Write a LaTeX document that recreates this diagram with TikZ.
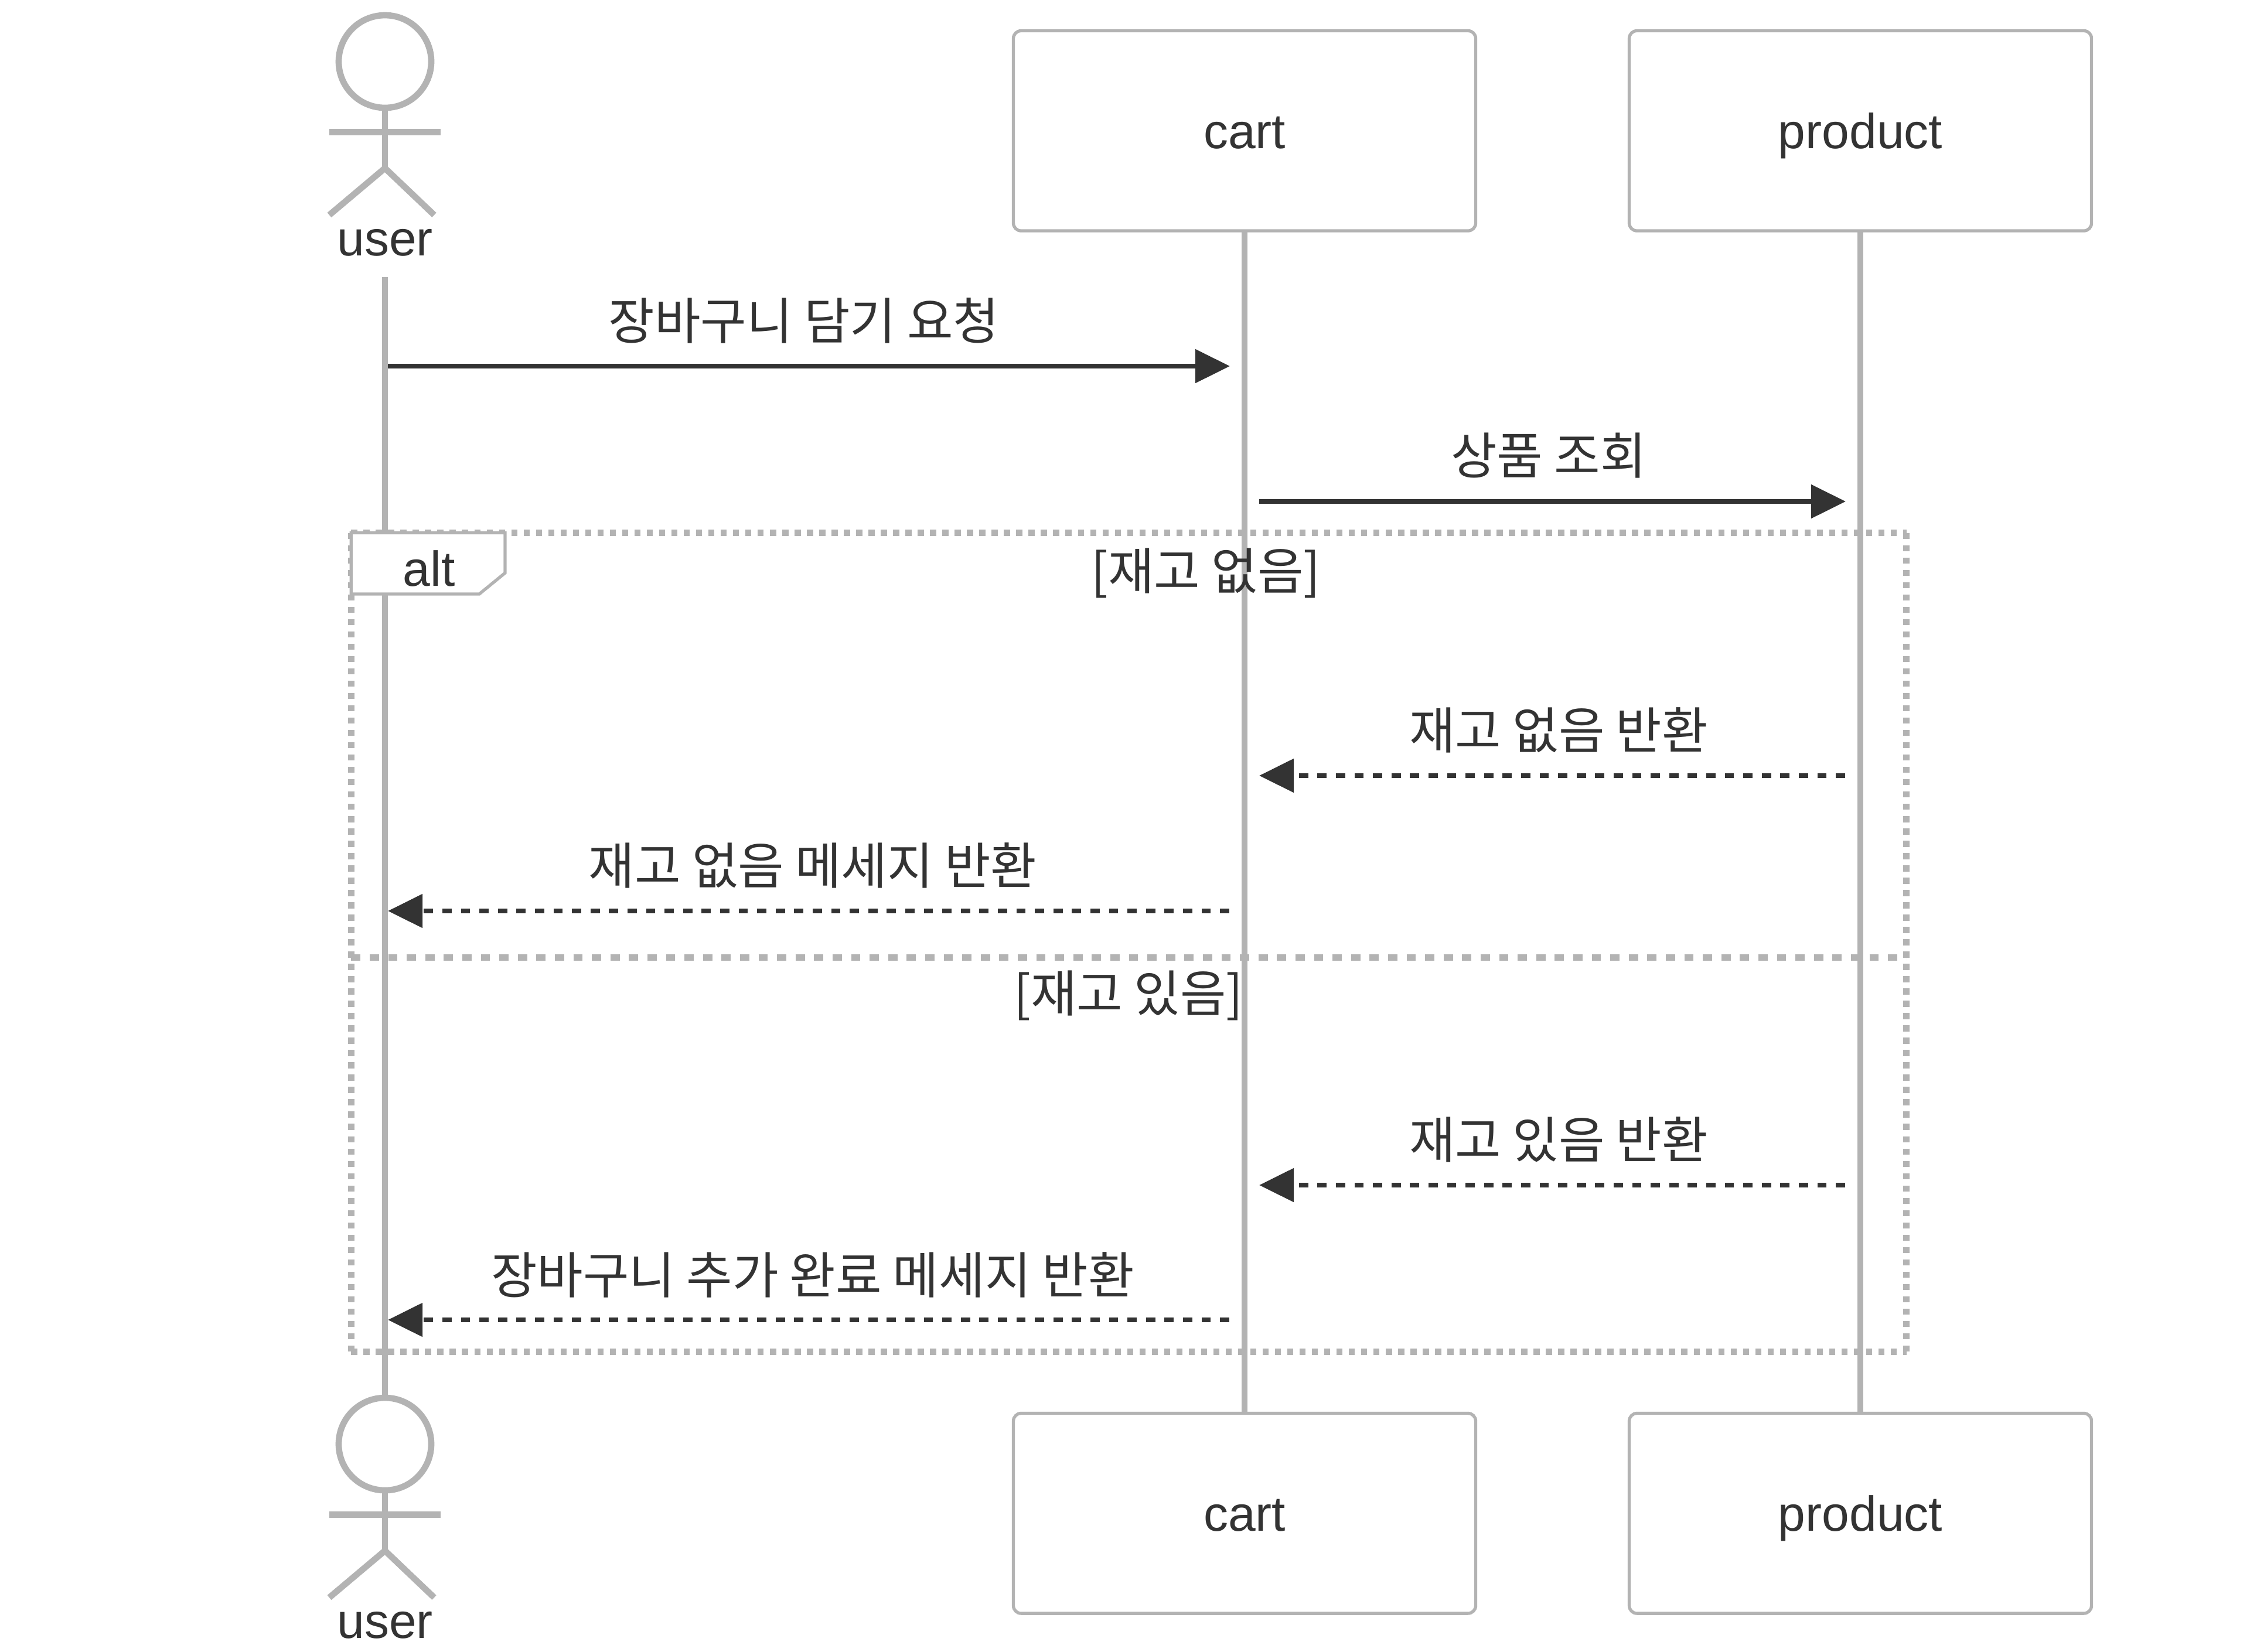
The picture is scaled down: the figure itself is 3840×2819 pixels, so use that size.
\documentclass[tikz,border=0pt]{standalone}
\usepackage{fontspec}
\setmainfont{Liberation Sans}
\newfontfamily\krfont{Noto Sans CJK KR}
\usetikzlibrary{arrows.meta}
\definecolor{linegray}{HTML}{B3B3B3}
\definecolor{inkdark}{HTML}{333333}
\tikzset{
  x=0.25pt,y=-0.25pt,
  txt/.style={text=inkdark,font=\fontsize{21pt}{24pt}\selectfont,inner sep=0pt,outer sep=0pt,anchor=base},
  krtxt/.style={txt,font=\fontsize{21.35pt}{24pt}\selectfont\krfont},
  lifeline/.style={draw=linegray,line width=2.67pt},
  actorline/.style={draw=linegray,line width=2.67pt},
  actorhead/.style={circle,draw=linegray,line width=2.67pt,minimum size=39.5pt,inner sep=0pt,outer sep=0pt,fill=white},
  partbox/.style={draw=linegray,line width=1.33pt,rounded corners=3.3pt,fill=white,minimum width=197.25pt,minimum height=85.4pt,inner sep=0pt,outer sep=0pt,text=inkdark,font=\fontsize{21pt}{24pt}\selectfont,text height=15.2pt,text depth=0pt},
  framedot/.style={draw=linegray,line width=2.63pt,dash pattern=on 2.6275pt off 2.6275pt},
  framediv/.style={draw=linegray,line width=2.63pt,dash pattern=on 3.95pt off 3.95pt},
  labelbox/.style={draw=linegray,line width=1.33pt,fill=white},
  msg/.style={draw=inkdark,line width=2.1pt,-{Triangle[length=14.75pt,width=14pt,fill=inkdark]}},
  msgdash/.style={msg,dash pattern=on 3.95pt off 3.95pt},
}
\begin{document}
\begin{tikzpicture}
\useasboundingbox (0,0) rectangle (3840,2819);
% participants
\node[partbox] (cartT) at (2124,223.25) {cart};
\node[partbox] (prodT) at (3175,223.25) {product};
\node[partbox] (cartB) at (2124,2583.25) {cart};
\node[partbox] (prodB) at (3175,2583.25) {product};
% actors
\node[actorhead] (headT) at (657,105) {};
\node[actorhead] (headB) at (657,2465) {};
\coordinate (hipT) at (657,287);
\coordinate (armLT) at (562,225.5); \coordinate (armRT) at (752,225.5);
\coordinate (legLT) at (562,367); \coordinate (legRT) at (741,367);
\coordinate (hipB) at (657,2647);
\coordinate (armLB) at (562,2585.5); \coordinate (armRB) at (752,2585.5);
\coordinate (legLB) at (562,2727); \coordinate (legRB) at (741,2727);
\draw[actorline] (headT.south) -- (hipT);
\draw[actorline] (armLT) -- (armRT);
\draw[actorline] (legLT) -- (hipT) -- (legRT);
\draw[actorline] (headB.south) -- (hipB);
\draw[actorline] (armLB) -- (armRB);
\draw[actorline] (legLB) -- (hipB) -- (legRB);
\node[txt] (userT) at (657,436) {user};
\node[txt] (userB) at (657,2796) {user};
% lifelines
\coordinate (lifeU) at (657,473);
\draw[lifeline] (lifeU) -- (headB.north);
\draw[lifeline] (cartT.south) -- (cartB.north);
\draw[lifeline] (prodT.south) -- (prodB.north);
% alt frame
\coordinate (fTL) at (599.3,909.5); \coordinate (fTR) at (3253.7,909.5);
\coordinate (fBL) at (599.3,2307.5); \coordinate (fBR) at (3253.7,2307.5);
\coordinate (dL) at (599.3,1634.5); \coordinate (dR) at (3253.7,1634.5);
\draw[framedot] (fTL) -- (fTR);
\draw[framedot] (fTR) -- (fBR);
\draw[framedot] (fBL) -- (fBR);
\draw[framedot] (fTL) -- (fBL);
\draw[framediv] (dL) -- (dR);
\draw[labelbox] (599.3,909.5) -- (862,909.5) -- (862,978) -- (818,1014) -- (599.3,1014) -- cycle;
\node[txt] (alt) at (732,1000) {alt};
\node[krtxt] (g1) at (2058,1006) {[재고 없음]};
\node[krtxt] (g2) at (1926,1727) {[재고 있음]};
% messages
\coordinate (m1a) at (662,625); \coordinate (m1b) at (2099,625);
\coordinate (m2a) at (2149,856); \coordinate (m2b) at (3150,856);
\coordinate (m3a) at (3149,1324); \coordinate (m3b) at (2149,1324);
\coordinate (m4a) at (2098,1555); \coordinate (m4b) at (662,1555);
\coordinate (m5a) at (3149,2023); \coordinate (m5b) at (2149,2023);
\coordinate (m6a) at (2098,2253); \coordinate (m6b) at (662,2253);
\draw[msg] (m1a) -- (m1b);
\draw[msg] (m2a) -- (m2b);
\draw[msgdash] (m3a) -- (m3b);
\draw[msgdash] (m4a) -- (m4b);
\draw[msgdash] (m5a) -- (m5b);
\draw[msgdash] (m6a) -- (m6b);
\node[krtxt] (t1) at (1372,579) {장바구니 담기 요청};
\node[krtxt] (t2) at (2643,809) {상품 조회};
\node[krtxt] (t3) at (2660,1278) {재고 없음 반환};
\node[krtxt] (t4) at (1387,1509) {재고 없음 메세지 반환};
\node[krtxt] (t5) at (2660,1977) {재고 있음 반환};
\node[krtxt] (t6) at (1387,2208) {장바구니 추가 완료 메세지 반환};
\end{tikzpicture}
\end{document}
